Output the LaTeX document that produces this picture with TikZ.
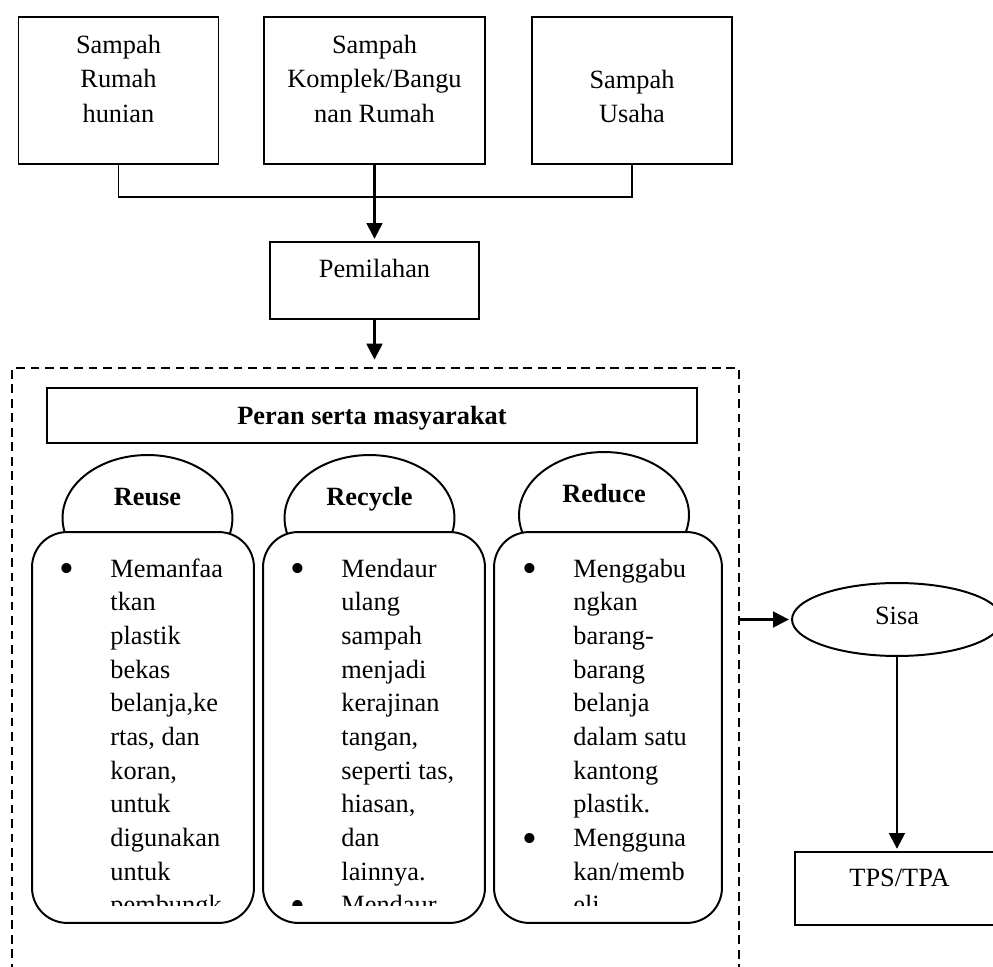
\documentclass[tikz,border=0pt]{standalone}
\usepackage{fontspec}
\setmainfont{Liberation Serif}
\usetikzlibrary{arrows.meta, positioning, shapes.geometric}
\newlength{\pxl}
\setlength{\pxl}{0.016cm}
\newcommand*{\itm}{\leavevmode\llap{\raisebox{-2.6pt}{\scalebox{1.6}{\textbullet}}\hspace{16.5pt}}}
\newcommand*{\boxlines}[1]{\parbox[t]{200\pxl}{\centering\fontsize{12pt}{15.93pt}\selectfont #1}}
\newcommand*{\itemlines}[1]{\parbox[t]{160\pxl}{\raggedright\fontsize{12pt}{15.34pt}\selectfont #1}}

\begin{document}
\begin{tikzpicture}[
        x=0.016cm, y=-0.016cm, >={Triangle[length=7.2pt,width=7.2pt]},
        every node/.style={font=\fontsize{12}{14.4}\selectfont, inner sep=0pt},
        srcbox/.style={draw, line width=0.9pt, minimum height=2.352cm},
        plainbox/.style={draw, line width=0.9pt, minimum width=3.344cm, minimum height=1.2cm},
        dome/.style={draw, ellipse, line width=0.9pt, fill=white, minimum width=2.72cm,
                     minimum height=2.016cm, font=\fontsize{12}{14.4}\selectfont\bfseries,
                     text height=0pt, text depth=0.4cm},
        itembox/.style={draw, line width=0.9pt, fill=white, rounded corners=16pt,
                        minimum height=6.256cm},
        arr/.style={->, line width=1.1pt, shorten >=1pt},
        link/.style={line width=0.9pt},
        area/.style={draw, line width=0.8pt, dash pattern=on 4pt off 2.6pt,
                     minimum width=11.632cm, minimum height=10.112cm},
        ]
        \useasboundingbox (0,0) rectangle (993,967);
        \clip (0,0) rectangle (993,967);

        % sumber sampah
        \node[srcbox, minimum width=2.896cm, text height=0.288cm, text depth=1.488cm]
              (src_1) at (118.5,90.5) {\boxlines{Sampah\\Rumah\\hunian}};
        \node[srcbox, minimum width=3.536cm, text height=0.288cm, text depth=1.488cm]
              (src_2) at (374.5,90.5) {\boxlines{Sampah\\Komplek/Bangu\\nan Rumah}};
        \node[srcbox, minimum width=2.912cm, text height=0.288cm, text depth=0.368cm]
              (src_3) at (632,90.5) {\boxlines{Sampah\\Usaha}};
        \node[plainbox, minimum height=1.232cm, text height=0.288cm, text depth=0.4cm]
              (pilah) at (374.5,280.5) {Pemilahan};

        \draw[link] (src_1.south) -- ++(0,32) -| (src_3.south);
        \draw[arr] (src_2.south) -- (pilah.north);

        % peran serta masyarakat
        \node[area] (area) at (375.5,684) {};
        \draw[arr, shorten >=3.5pt] (pilah.south) -- (area.north -| pilah.south);
        \node[draw, line width=0.9pt, minimum width=10.4cm, minimum height=0.88cm,
              font=\fontsize{12}{14.4}\selectfont\bfseries, text height=0.304cm, text depth=0pt]
              (peran) at (372,415.5) {Peran serta masyarakat};

        \node[dome] (cap_1) at (147.5,518) {Reuse};
        \node[dome] (cap_2) at (369.5,518) {Recycle};
        \node[dome] (cap_3) at (604,515) {Reduce};
        \node[itembox, minimum width=3.552cm] (col_1) at (143,727.5) {};
        \node[itembox, minimum width=3.552cm] (col_2) at (374,727.5) {};
        \node[itembox, minimum width=3.648cm] (col_3) at (608,727.5) {};

        \begin{scope}
          \clip (32,540) rectangle (722,905);
          \node[anchor=base west] (txt_1) at (110,577)
                {\itemlines{\itm Memanfaa\\tkan\\plastik\\bekas\\belanja,ke\\rtas, dan\\koran,\\untuk\\digunakan\\untuk\\pembungk}};
          \node[anchor=base west] (txt_2) at (341,577)
                {\itemlines{\itm Mendaur\\ulang\\sampah\\menjadi\\kerajinan\\tangan,\\seperti tas,\\hiasan,\\dan\\lainnya.\\\itm Mendaur}};
          \node[anchor=base west] (txt_3) at (573,577)
                {\itemlines{\itm Menggabu\\ngkan\\barang-\\barang\\belanja\\dalam satu\\kantong\\plastik.\\\itm Mengguna\\kan/memb\\eli}};
        \end{scope}

        % sisa
        \node[draw, ellipse, line width=0.9pt, minimum width=3.36cm, minimum height=1.168cm,
              text height=0.24cm, text depth=0.096cm] (sisa) at (897,619.5) {Sisa};
        \node[plainbox, minimum height=1.168cm, text height=0.288cm, text depth=0.368cm]
              (tps) at (899.5,888.5) {TPS/TPA};
        \draw[arr] (sisa.west -| area.east) -- (sisa.west);
        \draw[arr] (sisa.south) -- (sisa.south |- tps.north);
      \end{tikzpicture}
\end{document}
